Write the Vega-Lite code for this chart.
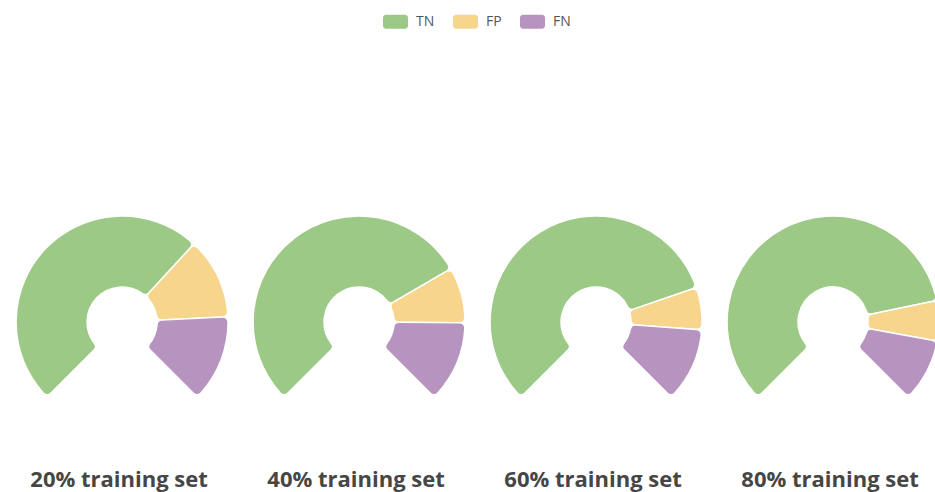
{
  "$schema": "https://vega.github.io/schema/vega-lite/v6.json",
  "width": 935,
  "height": 462,
  "autosize": "none",
  "padding": {"left": 0, "top": 0, "right": 0, "bottom": 30},
  "background": "white",
  "config": {"view": {"stroke": null}},
  "data": {
    "values": [
      {"set": "20% training set", "cls": "TN", "k": 1, "pct": 65.8},
      {"set": "20% training set", "cls": "FP", "k": 2, "pct": 16.5},
      {"set": "20% training set", "cls": "FN", "k": 3, "pct": 17.7},
      {"set": "40% training set", "cls": "TN", "k": 1, "pct": 72.2},
      {"set": "40% training set", "cls": "FP", "k": 2, "pct": 11.3},
      {"set": "40% training set", "cls": "FN", "k": 3, "pct": 16.5},
      {"set": "60% training set", "cls": "TN", "k": 1, "pct": 76.3},
      {"set": "60% training set", "cls": "FP", "k": 2, "pct": 8.6},
      {"set": "60% training set", "cls": "FN", "k": 3, "pct": 15.1},
      {"set": "80% training set", "cls": "TN", "k": 1, "pct": 79.0},
      {"set": "80% training set", "cls": "FP", "k": 2, "pct": 8.2},
      {"set": "80% training set", "cls": "FN", "k": 3, "pct": 12.8}
    ]
  },
  "transform": [
    {"stack": "pct", "groupby": ["set"], "sort": [{"field": "k", "order": "ascending"}], "offset": "normalize", "as": ["t0", "t1"]}
  ],
  "mark": {
    "type": "arc",
    "radius": 106,
    "radius2": 35,
    "y": 322,
    "cornerRadius": 5,
    "stroke": "white",
    "strokeWidth": 1.5
  },
  "encoding": {
    "x": {
      "field": "set",
      "type": "nominal",
      "sort": null,
      "scale": {"type": "point", "padding": 0.4726, "align": 0.545},
      "axis": {
        "title": null,
        "orient": "bottom",
        "domain": false,
        "ticks": false,
        "grid": false,
        "labelAngle": 0,
        "labelFont": "Open Sans",
        "labelFontSize": 22,
        "labelFontWeight": "bold",
        "labelColor": "#464646",
        "labelPadding": 7,
        "labelOffset": -3.5,
        "labelBaseline": "top"
      }
    },
    "theta": {
      "field": "t0",
      "type": "quantitative",
      "scale": {"domain": [0, 1], "range": [-2.35619, 2.35619]}
    },
    "theta2": {"field": "t1"},
    "color": {
      "field": "cls",
      "type": "nominal",
      "scale": {"domain": ["TN", "FP", "FN"], "range": ["#9cc986", "#f7d58c", "#b794c0"]},
      "legend": {
        "title": null,
        "orient": "none",
        "direction": "horizontal",
        "legendX": 383,
        "legendY": 9,
        "symbolType": "M-0.76,-0.56H0.76A0.24,0.24 0 0 1 1,-0.32V0.32A0.24,0.24 0 0 1 0.76,0.56H-0.76A0.24,0.24 0 0 1 -1,0.32V-0.32A0.24,0.24 0 0 1 -0.76,-0.56Z",
        "symbolSize": 625,
        "symbolStrokeWidth": 0,
        "symbolOpacity": 1,
        "labelFont": "Open Sans",
        "labelFontSize": 14,
        "labelColor": "#555555",
        "labelOffset": 8,
        "columnPadding": 18
      }
    }
  }
}
